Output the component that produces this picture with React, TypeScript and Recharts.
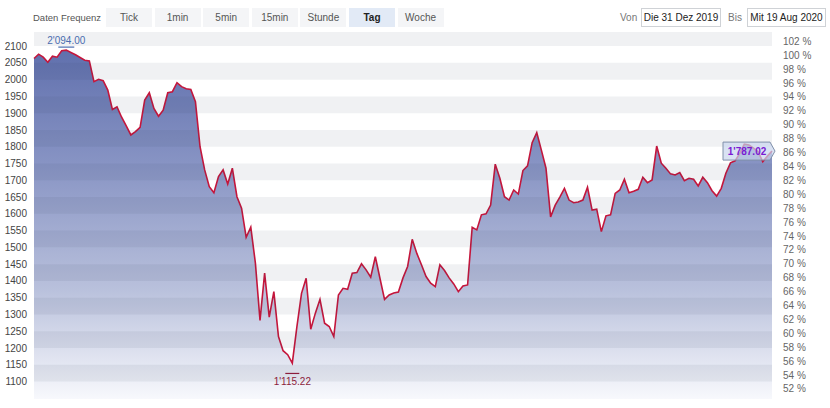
import React from "react";
import {
  ComposedChart,
  Area,
  Line,
  XAxis,
  YAxis,
  ReferenceArea,
  ReferenceDot,
} from "recharts";

// daily closes, 31 Dez 2019 .. 19 Aug 2020
const closes = [
  2063, 2076, 2067, 2052, 2070, 2067, 2086, 2088, 2081, 2074,
  2066, 2058, 2056, 1994, 2001, 1997, 1969, 1911, 1919, 1888,
  1862, 1835, 1845, 1858, 1939, 1961, 1914, 1891, 1909, 1961,
  1964, 1991, 1979, 1973, 1971, 1934, 1800, 1731, 1681, 1663,
  1711, 1731, 1689, 1736, 1651, 1617, 1530, 1560, 1453, 1282,
  1423, 1292, 1368, 1234, 1192, 1180, 1155, 1264, 1363, 1408,
  1256, 1304, 1345, 1274, 1264, 1234, 1358, 1378, 1375, 1423,
  1425, 1451, 1433, 1411, 1472, 1408, 1345, 1358, 1364, 1367,
  1409, 1443, 1524, 1482, 1448, 1413, 1393, 1383, 1448, 1431,
  1409, 1391, 1368, 1385, 1388, 1560, 1552, 1597, 1600, 1626,
  1748, 1706, 1651, 1641, 1671, 1659, 1729, 1743, 1812, 1842,
  1790, 1736, 1591, 1626, 1650, 1676, 1641, 1633, 1635, 1641,
  1679, 1611, 1614, 1547, 1594, 1597, 1661, 1671, 1703, 1663,
  1667, 1673, 1709, 1693, 1701, 1802, 1751, 1736, 1719, 1716,
  1723, 1699, 1706, 1703, 1683, 1709, 1693, 1669, 1653, 1676,
  1721, 1752, 1758, 1780, 1808, 1805, 1796, 1785, 1755, 1772,
  1787.02,
];

const valueTicks = [
  1100, 1150, 1200, 1250, 1300, 1350, 1400, 1450, 1500, 1550, 1600,
  1650, 1700, 1750, 1800, 1850, 1900, 1950, 2000, 2050, 2100,
];
const pctTicks = [
  52, 54, 56, 58, 60, 62, 64, 66, 68, 70, 72, 74, 76, 78, 80, 82, 84, 86,
  88, 90, 92, 94, 96, 98, 100, 102,
];

const basis = 2073; // 100 %
const valueDomain = [1048, 2142];

const highIndex = 7;
const highValue = 2094.0;
const lowIndex = 56;
const lowValue = 1115.22;
const lastValue = 1787.02;

const frequencies = ["Tick", "1min", "5min", "15min", "Stunde", "Tag", "Woche"];
const activeFrequency = "Tag";
const fromDate = "Die 31 Dez 2019";
const toDate = "Mit 19 Aug 2020";

const font = '"Liberation Sans", Arial, Helvetica, sans-serif';

const fmt = (v: number) => {
  const s = v.toFixed(2);
  const [a, b] = s.split(".");
  return a.replace(/\B(?=(\d{3})+(?!\d))/g, "'") + "." + b;
};

const data = closes.map((v, i) => ({ i, v, pct: (v / basis) * 100 }));

const bands = valueTicks
  .filter((t) => t % 100 === 0)
  .map((t) => [t, Math.min(t + 50, valueDomain[1])]);

const HighMark = (p: any) => (
  <g>
    <line x1={p.cx - 8} x2={p.cx + 8} y1={p.cy - 1} y2={p.cy - 1} stroke="#4a6db0" strokeWidth={1.2} />
    <text x={p.cx} y={p.cy - 4} textAnchor="middle" fontSize={10} fontFamily={font} fill="#4a6db0">
      {fmt(highValue)}
    </text>
  </g>
);

const LowMark = (p: any) => (
  <g>
    <line x1={p.cx - 7} x2={p.cx + 7} y1={p.cy - 3} y2={p.cy - 3} stroke="#8c1d3c" strokeWidth={1.2} />
    <text x={p.cx} y={p.cy + 9} textAnchor="middle" fontSize={10} fontFamily={font} fill="#8c1d3c">
      {fmt(lowValue)}
    </text>
  </g>
);

const LastMark = (p: any) => {
  const r = p.cx + 3;
  const l = r - 52;
  const t = p.cy - 9;
  const b = p.cy + 9;
  return (
    <g>
      <path
        d={`M${l},${t} L${r - 5},${t} L${r},${p.cy} L${r - 5},${b} L${l},${b} Z`}
        fill="#c9d6ee"
        fillOpacity={0.7}
        stroke="#8090aa"
        strokeWidth={1}
      />
      <text x={l + 24} y={p.cy + 4} textAnchor="middle" fontSize={10} fontWeight="bold" fontFamily={font} fill="#7a1ad2">
        {fmt(lastValue)}
      </text>
    </g>
  );
};

const btn: React.CSSProperties = {
  position: "absolute",
  top: 8,
  height: 19,
  width: 46,
  lineHeight: "19px",
  textAlign: "center",
  fontSize: 10,
  color: "#555",
  background: "#f4f5f7",
};

const box: React.CSSProperties = {
  position: "absolute",
  top: 8,
  height: 17,
  lineHeight: "17px",
  border: "1px solid #cfd2d6",
  background: "#fff",
  fontSize: 10,
  color: "#222",
  textAlign: "center",
};

export default function App() {
  return (
    <div style={{ position: "absolute", left: 0, top: 0, width: 830, height: 408, background: "#fff", fontFamily: font }}>
      <div style={{ position: "absolute", left: 33, top: 8, lineHeight: "19px", fontSize: 9.5, color: "#555" }}>
        Daten Frequenz
      </div>
      {frequencies.map((f, k) => (
        <div
          key={f}
          style={{
            ...btn,
            left: 106 + k * 48.6,
            background: f === activeFrequency ? "#e2eaf6" : "#f4f5f7",
            fontWeight: f === activeFrequency ? "bold" : "normal",
            color: f === activeFrequency ? "#222" : "#555",
          }}
        >
          {f}
        </div>
      ))}
      <div style={{ position: "absolute", left: 620, top: 8, lineHeight: "19px", fontSize: 10, color: "#777" }}>Von</div>
      <div style={{ ...box, left: 641, width: 78 }}>{fromDate}</div>
      <div style={{ position: "absolute", left: 728, top: 8, lineHeight: "19px", fontSize: 10, color: "#777" }}>Bis</div>
      <div style={{ ...box, left: 747, width: 77 }}>{toDate}</div>

      <div style={{ position: "absolute", left: 0, top: 0 }}>
        <ComposedChart width={830} height={408} data={data} margin={{ top: 32, right: 0, bottom: 9, left: 0 }}>
          <defs>
            <linearGradient id="fillGrad" gradientUnits="userSpaceOnUse" x1="0" y1="32" x2="0" y2="399">
              <stop offset="0" stopColor="#5162a5" />
              <stop offset="0.35" stopColor="#808dc0" />
              <stop offset="0.7" stopColor="#b5bdda" />
              <stop offset="1" stopColor="#f7f8fc" />
            </linearGradient>
          </defs>
          <XAxis dataKey="i" type="category" tick={false} tickLine={false} height={0} axisLine={{ stroke: "#cfd2d6" }} />
          <YAxis
            yAxisId="v"
            domain={valueDomain}
            ticks={valueTicks}
            interval={0}
            width={34}
            axisLine={false}
            tickLine={false}
            tickMargin={1}
            allowDataOverflow
            tick={{ fontSize: 10, fill: "#444", fontFamily: font }}
          />
          <YAxis
            yAxisId="pct"
            orientation="right"
            domain={[(valueDomain[0] / basis) * 100, (valueDomain[1] / basis) * 100]}
            ticks={pctTicks}
            interval={0}
            width={58}
            axisLine={false}
            tickLine={false}
            tickMargin={5}
            allowDataOverflow
            tickFormatter={(t: number) => `${t} %`}
            tick={{ fontSize: 10, fill: "#666", fontFamily: font, textAnchor: "start" }}
          />
          <Area
            yAxisId="v"
            type="linear"
            dataKey="v"
            stroke="#c4163c"
            strokeWidth={1.6}
            fill="url(#fillGrad)"
            fillOpacity={0.95}
            dot={false}
            activeDot={false}
            isAnimationActive={false}
          />
          {bands.map(([a, b]) => (
            <ReferenceArea
              key={a}
              yAxisId="v"
              y1={a}
              y2={b}
              fill="#2a3550"
              fillOpacity={0.07}
              stroke="none"
              zIndex={150}
            />
          ))}
          <Line yAxisId="pct" dataKey="pct" stroke="none" dot={false} activeDot={false} isAnimationActive={false} />
          <ReferenceDot yAxisId="v" x={highIndex} y={highValue} shape={HighMark} />
          <ReferenceDot yAxisId="v" x={lowIndex} y={lowValue} shape={LowMark} />
          <ReferenceDot yAxisId="v" x={closes.length - 1} y={lastValue} shape={LastMark} />
        </ComposedChart>
      </div>
    </div>
  );
}
